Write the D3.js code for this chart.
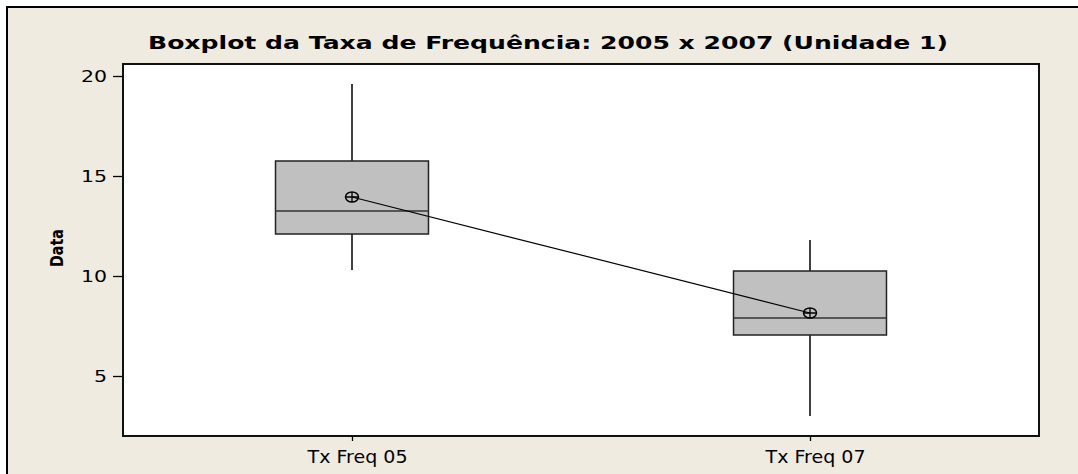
<!DOCTYPE html>
<html>
<head>
<meta charset="utf-8">
<script src="https://cdn.jsdelivr.net/npm/d3@7"></script>
<style>
  body { margin: 0; background: #fff; }
  svg { display: block; }
</style>
</head>
<body>
<div id="chart"></div>
<script>
// values
const groups = ["Tx Freq 05", "Tx Freq 07"];
const whiskerLow = [10.3, 3.0];
const q1 = [12.1, 7.05];
const medians = [13.25, 7.9];
const q3 = [15.75, 10.25];
const whiskerHigh = [19.6, 11.8];
const means = [13.95, 8.15];
const yTicks = [5, 10, 15, 20];

const data = groups.map((g, i) => ({
  group: g, lo: whiskerLow[i], q1: q1[i], med: medians[i],
  q3: q3[i], hi: whiskerHigh[i], mean: means[i]
}));

const W = 1078, H = 474;
const plot = { left: 123, top: 64, right: 1039, bottom: 436 };

const svg = d3.select("#chart").append("svg")
  .attr("width", W)
  .attr("height", H)
  .style("font-family", "'DejaVu Sans', Verdana, sans-serif");

// outer frame
svg.append("rect")
  .attr("x", 7).attr("y", 7)
  .attr("width", W).attr("height", H)
  .attr("fill", "#efebe1")
  .attr("stroke", "#000")
  .attr("stroke-width", 2);

svg.append("rect")
  .attr("x", plot.left).attr("y", plot.top)
  .attr("width", plot.right - plot.left)
  .attr("height", plot.bottom - plot.top)
  .attr("fill", "#fff");

const x = d3.scalePoint()
  .domain(groups)
  .range([plot.left, plot.right])
  .padding(0.5);

const y = d3.scaleLinear()
  .domain([2, 20.6])
  .range([plot.bottom, plot.top]);

const boxW = x.step() * 0.334;

const g = svg.selectAll(".box")
  .data(data)
  .enter()
  .append("g")
  .attr("class", "box");

g.append("line")
  .attr("x1", d => x(d.group)).attr("x2", d => x(d.group))
  .attr("y1", d => y(d.hi)).attr("y2", d => y(d.q3))
  .attr("stroke", "#000").attr("stroke-width", 1.5);

g.append("line")
  .attr("x1", d => x(d.group)).attr("x2", d => x(d.group))
  .attr("y1", d => y(d.q1)).attr("y2", d => y(d.lo))
  .attr("stroke", "#000").attr("stroke-width", 1.5);

g.append("rect")
  .attr("x", d => x(d.group) - boxW / 2)
  .attr("y", d => y(d.q3))
  .attr("width", boxW)
  .attr("height", d => y(d.q1) - y(d.q3))
  .attr("fill", "#c0c0c0")
  .attr("stroke", "#222")
  .attr("stroke-width", 1.5);

g.append("line")
  .attr("x1", d => x(d.group) - boxW / 2).attr("x2", d => x(d.group) + boxW / 2)
  .attr("y1", d => y(d.med)).attr("y2", d => y(d.med))
  .attr("stroke", "#333").attr("stroke-width", 1.5);

// mean connect line
svg.append("path")
  .datum(data)
  .attr("fill", "none")
  .attr("stroke", "#000")
  .attr("stroke-width", 1.2)
  .attr("d", d3.line().x(d => x(d.group)).y(d => y(d.mean)));

// mean symbol: circle with a cross
const m = svg.selectAll(".mean")
  .data(data)
  .enter()
  .append("g")
  .attr("transform", d => `translate(${x(d.group)},${y(d.mean)})`);

m.append("ellipse")
  .attr("rx", 6.5).attr("ry", 5)
  .attr("fill", "none")
  .attr("stroke", "#000")
  .attr("stroke-width", 1.5);

m.append("path")
  .attr("d", "M-6.5,0H6.5M0,-5V5")
  .attr("stroke", "#000")
  .attr("stroke-width", 1.3);

// plot frame
svg.append("rect")
  .attr("x", plot.left).attr("y", plot.top)
  .attr("width", plot.right - plot.left)
  .attr("height", plot.bottom - plot.top)
  .attr("fill", "none")
  .attr("stroke", "#111")
  .attr("stroke-width", 2);

// axes
const yAxis = svg.append("g")
  .attr("transform", `translate(${plot.left - 1},0)`)
  .call(d3.axisLeft(y).tickValues(yTicks).tickSize(9).tickPadding(6));
yAxis.select(".domain").remove();
yAxis.selectAll("line").attr("stroke", "#000").attr("stroke-width", 1.3);
yAxis.selectAll("text")
  .attr("fill", "#000")
  .style("font-family", "'DejaVu Sans', Verdana, sans-serif")
  .style("font-size", "16px")
  .attr("textLength", d => String(d).length * 13)
  .attr("lengthAdjust", "spacingAndGlyphs")
  .attr("dy", "0.35em");

const xAxis = svg.append("g")
  .attr("transform", `translate(0,${plot.bottom})`)
  .call(d3.axisBottom(x).tickSize(5).tickPadding(10));
xAxis.select(".domain").remove();
xAxis.selectAll("line").attr("stroke", "#000").attr("stroke-width", 1.3);
xAxis.selectAll("text")
  .attr("fill", "#000")
  .attr("x", 5)
  .style("font-family", "'DejaVu Sans', Verdana, sans-serif")
  .style("font-size", "17px")
  .attr("textLength", 100)
  .attr("lengthAdjust", "spacingAndGlyphs");

// title
svg.append("text")
  .attr("x", 548)
  .attr("y", 49)
  .attr("text-anchor", "middle")
  .style("font-size", "18px")
  .style("font-weight", "bold")
  .attr("textLength", 800)
  .attr("lengthAdjust", "spacingAndGlyphs")
  .text("Boxplot da Taxa de Frequência: 2005 x 2007 (Unidade 1)");

// y label
svg.append("text")
  .attr("transform", `translate(63,248) rotate(-90)`)
  .attr("text-anchor", "middle")
  .style("font-size", "17px")
  .style("font-weight", "bold")
  .attr("textLength", 38)
  .attr("lengthAdjust", "spacingAndGlyphs")
  .text("Data");
</script>
</body>
</html>
